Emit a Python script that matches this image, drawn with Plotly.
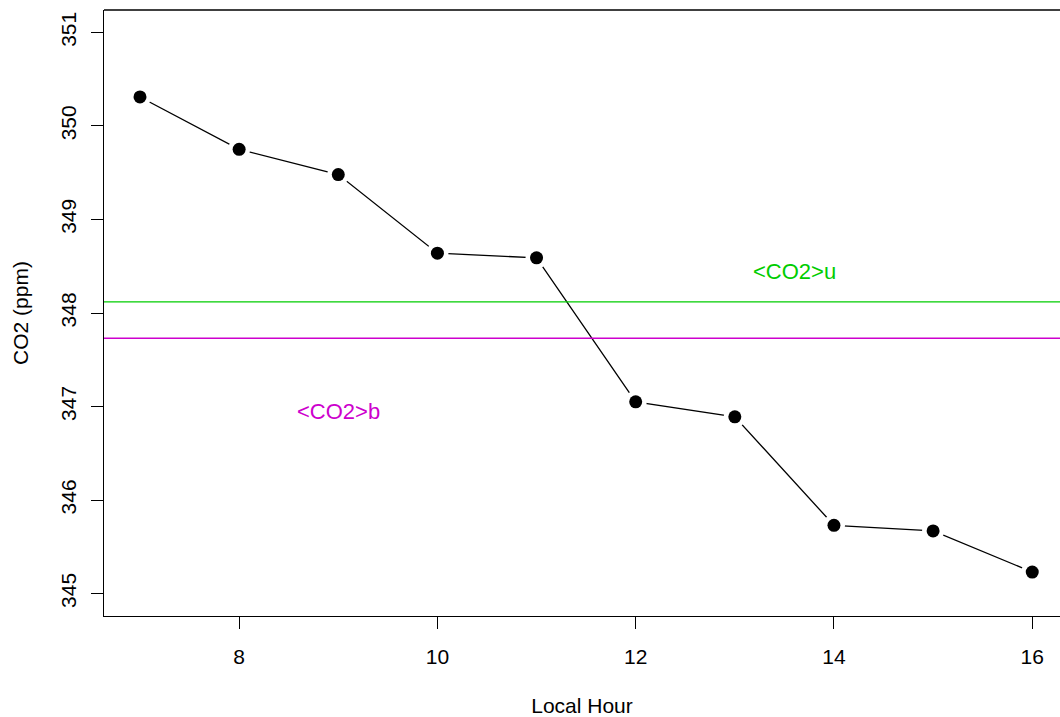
import plotly.graph_objects as go

hours = [7, 8, 9, 10, 11, 12, 13, 14, 15, 16]
co2 = [350.31, 349.75, 349.48, 348.64, 348.59, 347.05, 346.89, 345.73, 345.67, 345.23]
co2_u = 348.12
co2_b = 347.73
label_u = ("<CO2>u", 13.6, 348.44)
label_b = ("<CO2>b", 9.0, 346.95)
x_ticks = [8, 10, 12, 14, 16]
y_ticks = [345, 346, 347, 348, 349, 350, 351]

GREEN = "#00CD00"
MAGENTA = "#CD00CD"
FONT = "Liberation Sans, Arial, Helvetica, sans-serif"
FS = 21

fig = go.Figure()
fig.add_trace(go.Scatter(x=hours, y=co2, mode="lines",
                         line=dict(color="black", width=1.3), hoverinfo="skip"))
fig.add_trace(go.Scatter(x=hours, y=co2, mode="markers",
                         marker=dict(color="white", size=22, line=dict(width=0)), hoverinfo="skip"))
fig.add_trace(go.Scatter(x=hours, y=co2, mode="markers",
                         marker=dict(color="black", size=13, line=dict(width=0))))

fig.add_hline(y=co2_u, line=dict(color=GREEN, width=1.3))
fig.add_hline(y=co2_b, line=dict(color=MAGENTA, width=1.6))

for (txt, xx, yy), col in [(label_u, GREEN), (label_b, MAGENTA)]:
    fig.add_annotation(x=xx, y=yy, text=txt.replace("<", "&lt;").replace(">", "&gt;"),
                       showarrow=False, font=dict(color=col, size=22, family=FONT),
                       xanchor="center", yanchor="middle")

# top border (right border lies outside the visible window)
fig.add_shape(type="line", xref="paper", yref="paper", x0=0, x1=1, y0=1, y1=1,
              line=dict(color="black", width=1.3))

fig.update_layout(
    width=1060, height=717,
    margin=dict(l=104, r=0, t=10, b=101),
    paper_bgcolor="white", plot_bgcolor="white",
    showlegend=False,
    font=dict(family=FONT, size=FS, color="black"),
)
fig.update_xaxes(range=[6.637, 16.28], tickvals=x_ticks, showgrid=False, zeroline=False,
                 showline=True, linecolor="black", linewidth=1.3,
                 ticks="outside", ticklen=12, tickwidth=1.3, tickcolor="black",
                 tickfont=dict(size=FS), ticklabelstandoff=10,
                 title=dict(text="Local Hour", font=dict(size=FS), standoff=30))
fig.update_yaxes(range=[344.76, 351.24], tickvals=y_ticks, showgrid=False, zeroline=False,
                 showline=True, linecolor="black", linewidth=1.3,
                 ticks="outside", ticklen=12, tickwidth=1.3, tickcolor="black",
                 tickangle=-90, tickfont=dict(size=FS), ticklabelstandoff=6,
                 title=dict(text="CO2 (ppm)", font=dict(size=FS), standoff=23))

fig.write_html("out.html")
